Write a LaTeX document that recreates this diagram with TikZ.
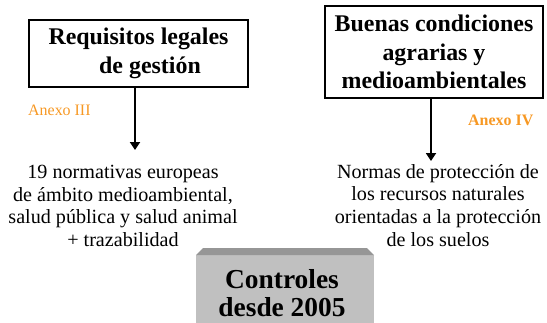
\documentclass[tikz,border=0pt]{standalone}
\usepackage{fontspec}
\setmainfont{Liberation Serif}
\usetikzlibrary{arrows.meta}
\definecolor{anexo}{RGB}{247,152,35}
\definecolor{bevel}{RGB}{150,150,150}
\definecolor{ctrlfill}{RGB}{192,192,192}
\begin{document}
\begin{tikzpicture}[x=1bp,y=-1bp,
  boxstyle/.style={draw, line width=1.8bp, inner sep=0pt, align=center, font=\fontsize{24}{28.5}\selectfont\bfseries},
  bodytext/.style={align=center, inner sep=0pt, font=\fontsize{20.2}{22.7}\selectfont},
  anexotext/.style={text=anexo, inner sep=0pt, anchor=base west, font=\fontsize{16}{18}\selectfont},
  arr/.style={line width=1.8bp, -{Triangle[width=10bp,length=8bp]}},
]
\useasboundingbox (0,0) rectangle (547,322);
\clip (0,0) rectangle (547,322);
\node[boxstyle, minimum width=219bp, minimum height=67bp] (lbox) at (138.5,53.5) {Requisitos legales\\\hspace*{23bp}de gestión};
\node[boxstyle, minimum width=218bp, minimum height=92bp] (rbox) at (434,52) {Buenas condiciones\\agrarias y\\medioambientales};
\node[anexotext] (anx3) at (28,115) {Anexo III};
\node[anexotext, font=\fontsize{16}{18}\selectfont\bfseries] (anx4) at (468,125) {Anexo IV};
\node[bodytext, anchor=north] (ltext) at (123,165) {19 normativas europeas\\de ámbito medioambiental,\\salud pública y salud animal\\+ trazabilidad};
\node[bodytext, anchor=north] (rtext) at (438,164) {Normas de protección de\\los recursos naturales\\orientadas a la protección\\de los suelos};
\coordinate (la) at (135,150);
\coordinate (ra) at (431,161);
\draw[arr] (lbox.south -| la) -- (la);
\draw[arr] (rbox.south -| ra) -- (ra);
\fill[ctrlfill] (196,255) rectangle (374,330);
\fill[bevel] (196,255) -- (203,248) -- (367,248) -- (374,255) -- cycle;
\node[font=\fontsize{27.5}{28}\selectfont\bfseries, align=center, inner sep=0pt, anchor=north] (ctrl) at (282,269) {Controles\\desde 2005};
\end{tikzpicture}
\end{document}
